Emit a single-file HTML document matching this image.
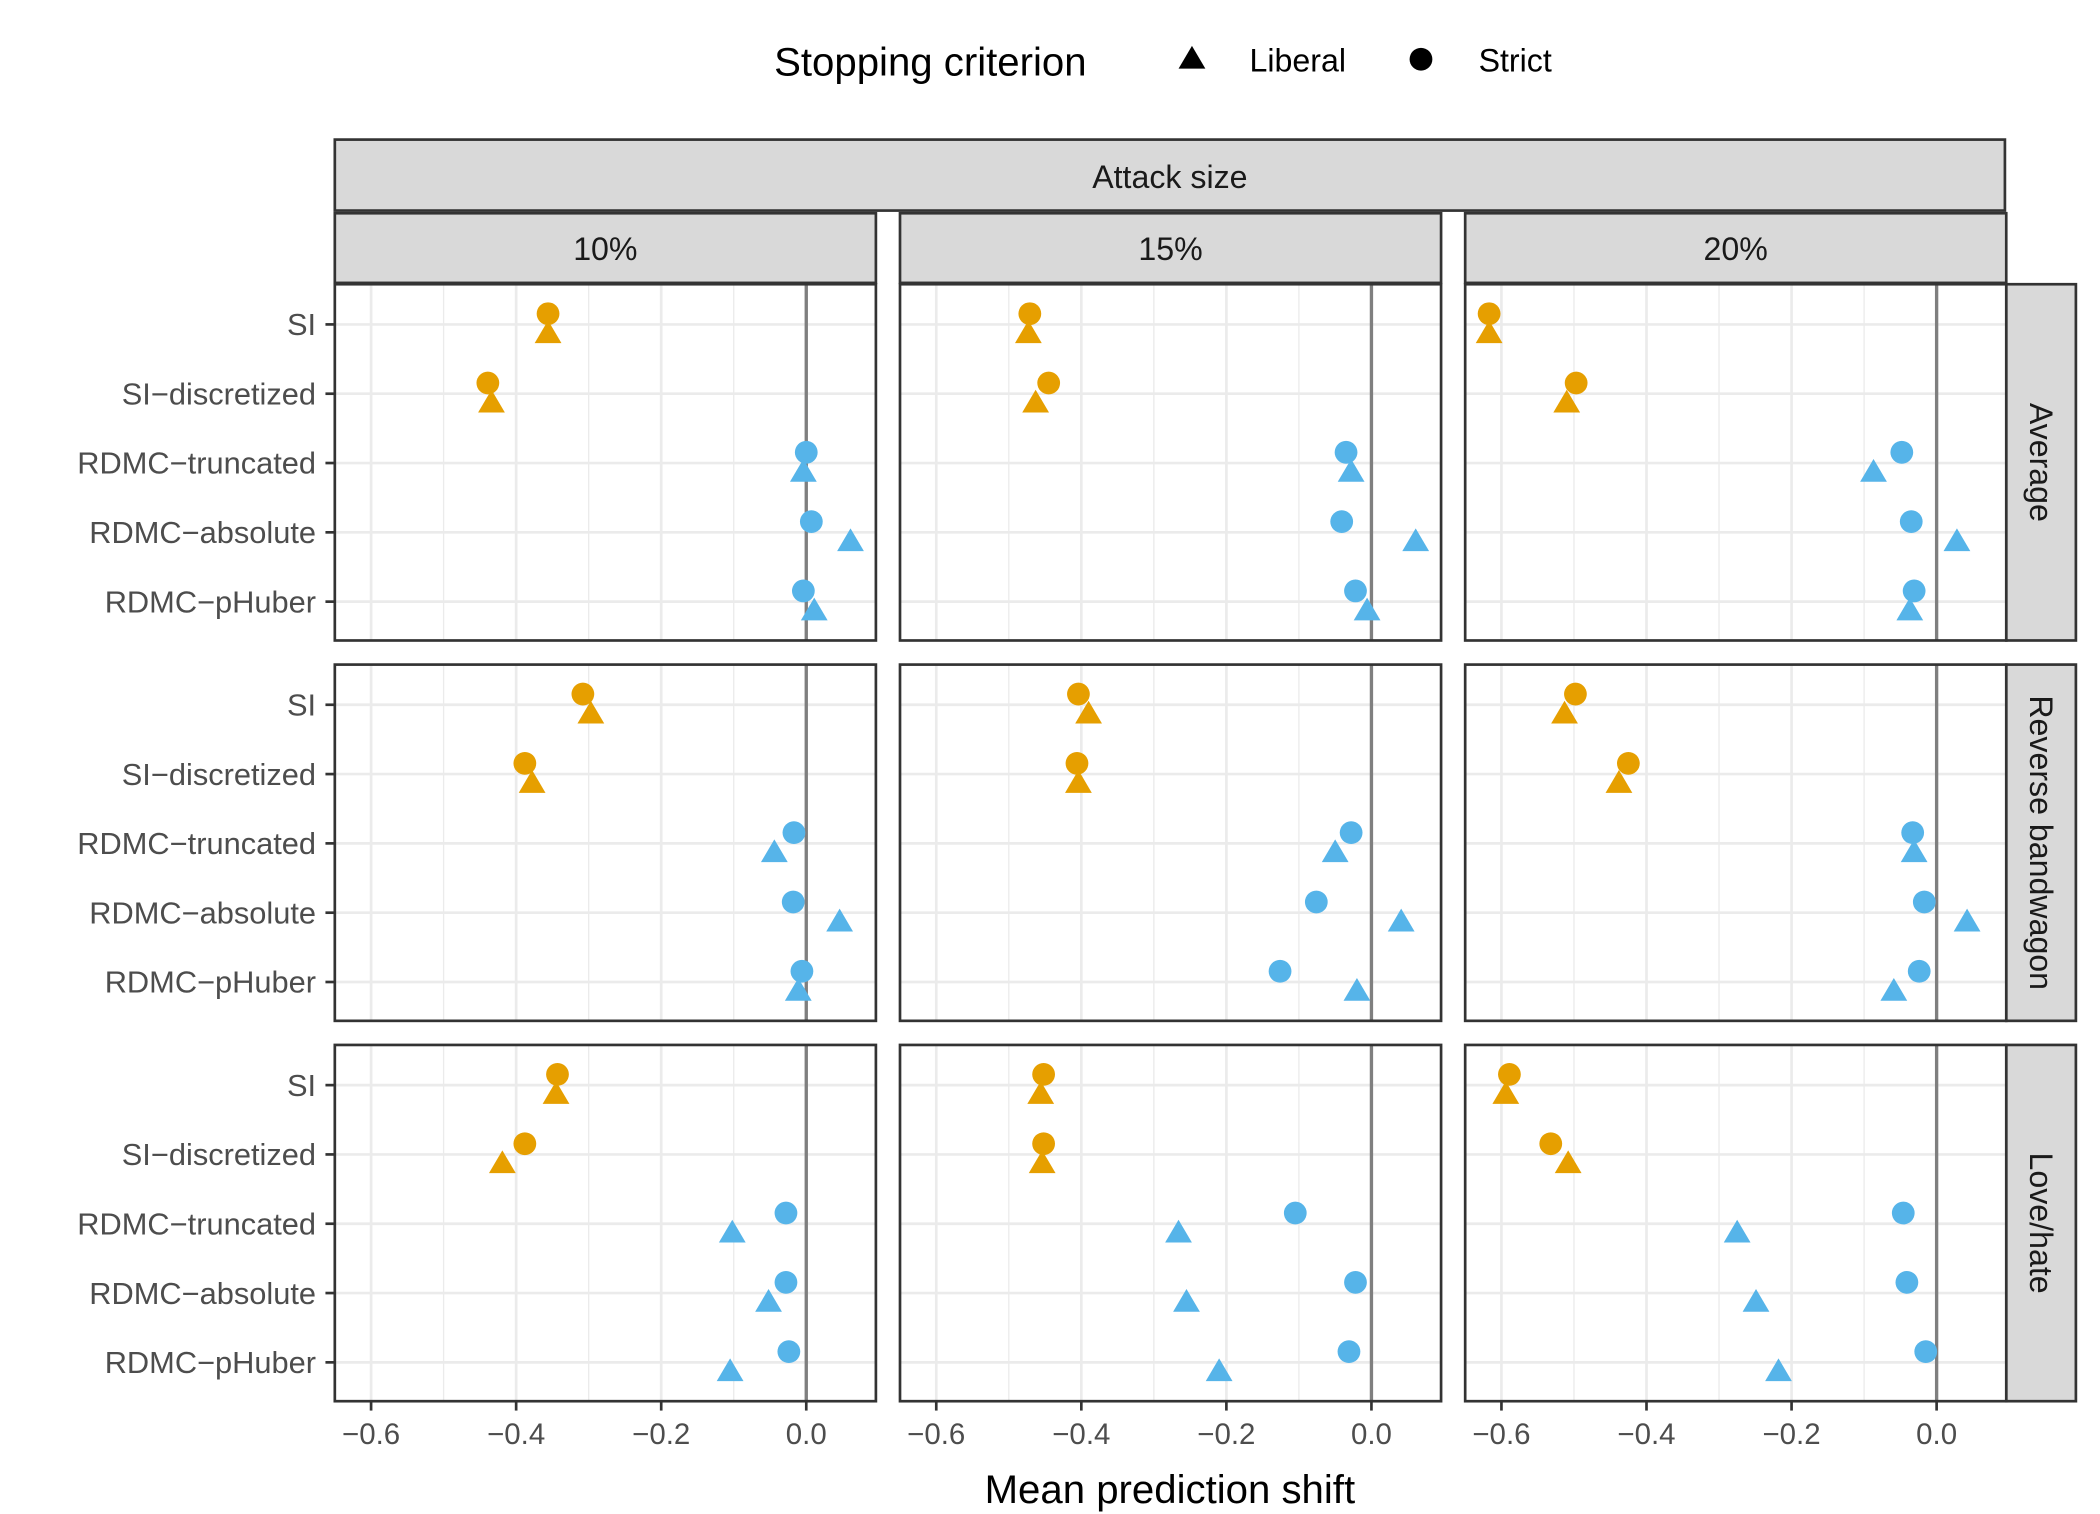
<!DOCTYPE html>
<html><head><meta charset="utf-8"><style>
html,body{margin:0;padding:0;background:#fff;}
svg{display:block;font-family:"Liberation Sans",Arial,sans-serif;}
</style></head><body>
<svg id="chart" width="2100" height="1514" viewBox="0 0 1568 1130" xmlns="http://www.w3.org/2000/svg">
<g>
<text x="578" y="56" font-size="30" fill="#000">Stopping criterion</text>
<polygon points="890,34 880,51 900,51" fill="#000"/>
<text x="933" y="53" font-size="24" fill="#000">Liberal</text>
<circle cx="1061" cy="44" r="8.5" fill="#000"/>
<text x="1104" y="53" font-size="24" fill="#000">Strict</text>
</g>
<rect x="250" y="104" width="1247" height="53" fill="#d9d9d9" stroke="#333" stroke-width="2"/>
<text x="873.5" y="140" font-size="24" text-anchor="middle" fill="#1a1a1a">Attack size</text>
<g id="plot"></g>
<text x="873.5" y="1122" font-size="30" text-anchor="middle" fill="#000">Mean prediction shift</text>
</svg>
<script>
const methods = ["SI","SI\u2212discretized","RDMC\u2212truncated","RDMC\u2212absolute","RDMC\u2212pHuber"];
const attackSizes = ["10%","15%","20%"];
const attackTypes = ["Average","Reverse bandwagon","Love/hate"];
const xTicks = [-0.6,-0.4,-0.2,0.0];
const xTickLabels = ["\u22120.6","\u22120.4","\u22120.2","0.0"];
// strict[row][col][method], liberal[row][col][method]
const strict = [
 [[-0.356,-0.439,0.000,0.007,-0.004],[-0.471,-0.445,-0.035,-0.041,-0.022],[-0.617,-0.497,-0.048,-0.035,-0.031]],
 [[-0.308,-0.388,-0.017,-0.018,-0.006],[-0.404,-0.406,-0.028,-0.076,-0.126],[-0.498,-0.425,-0.033,-0.017,-0.024]],
 [[-0.343,-0.388,-0.028,-0.028,-0.024],[-0.452,-0.452,-0.105,-0.022,-0.031],[-0.589,-0.532,-0.046,-0.041,-0.015]]
];
const liberal = [
 [[-0.356,-0.434,-0.004,0.061,0.011],[-0.473,-0.463,-0.028,0.061,-0.006],[-0.617,-0.510,-0.087,0.028,-0.037]],
 [[-0.297,-0.378,-0.044,0.046,-0.011],[-0.390,-0.404,-0.050,0.041,-0.020],[-0.513,-0.438,-0.031,0.042,-0.059]],
 [[-0.345,-0.419,-0.102,-0.052,-0.105],[-0.456,-0.454,-0.266,-0.255,-0.210],[-0.594,-0.508,-0.275,-0.249,-0.218]]
];
const NS="http://www.w3.org/2000/svg";
const plot=document.getElementById('plot');
function mk(tag,attrs,parent){const e=document.createElementNS(NS,tag);for(const k in attrs)e.setAttribute(k,attrs[k]);(parent||plot).appendChild(e);return e;}
const colX=[250,672,1094], panelW=404, rowY=[212,496,780], panelH=266;
const xMin=-0.65, xMax=0.096;
function xs(c,v){return colX[c]+(v-xMin)/(xMax-xMin)*panelW;}
function ys(r,m){return rowY[r]+30+m*51.75;}
const methodColor=i=>i<2?"#E69F00":"#56B4E9";
for(let c=0;c<3;c++){
  const s=mk('rect',{x:colX[c],y:159,width:panelW,height:52,fill:"#d9d9d9",stroke:"#333","stroke-width":2});
  
  
  const t=mk('text',{x:colX[c]+panelW/2,y:194,"font-size":24,"text-anchor":"middle",fill:"#1a1a1a"});t.textContent=attackSizes[c];
  
  
}
function attrSafe(s){return s.toLowerCase().replace(/[^a-z0-9]+/g,'-').replace(/-$/,'');}
for(let r=0;r<3;r++){
  const s=mk('rect',{x:1498,y:rowY[r],width:52,height:panelH,fill:"#d9d9d9",stroke:"#333","stroke-width":2});
  
  
  const cy=rowY[r]+panelH/2;
  const t=mk('text',{x:1524,y:cy,"font-size":24,"text-anchor":"middle","dominant-baseline":"central",fill:"#1a1a1a",transform:`rotate(90 1524 ${cy})`});t.textContent=attackTypes[r];
  
  
  for(let c=0;c<3;c++){
    const g=mk('g',{});
    
    
    mk('rect',{x:colX[c],y:rowY[r],width:panelW,height:panelH,fill:"#fff"},g);
    for(let v=-0.6;v<=0.05;v+=0.1){
      const major=Math.abs(Math.round(v*10)%2)===0;
      const x=xs(c,v);
      const l=mk('line',{x1:x,x2:x,y1:rowY[r],y2:rowY[r]+panelH,stroke:"#ebebeb","stroke-width":major?2:1},g);
      
      
    }
    for(let m=0;m<5;m++){
      const l=mk('line',{x1:colX[c],x2:colX[c]+panelW,y1:ys(r,m),y2:ys(r,m),stroke:"#ebebeb","stroke-width":2},g);
      
      
    }
    const z=mk('line',{x1:xs(c,0),x2:xs(c,0),y1:rowY[r],y2:rowY[r]+panelH,stroke:"#7f7f7f","stroke-width":2.5},g);
    
    
    for(let m=0;m<5;m++){
      const cx=xs(c,strict[r][c][m]), cy=ys(r,m)-8;
      const p=mk('circle',{cx:cx,cy:cy,r:8.5,fill:methodColor(m)},g);
      
      
      const tx=xs(c,liberal[r][c][m]), ty=ys(r,m)+7;
      const tri=mk('polygon',{points:`${tx},${ty-10} ${tx-10},${ty+7} ${tx+10},${ty+7}`,fill:methodColor(m)},g);
      
      
    }
    mk('rect',{x:colX[c],y:rowY[r],width:panelW,height:panelH,fill:"none",stroke:"#333","stroke-width":2},g);
  }
  for(let m=0;m<5;m++){
    const y=ys(r,m);
    mk('line',{x1:243,x2:250,y1:y,y2:y,stroke:"#333","stroke-width":2});
    const t=mk('text',{x:236,y:y+8,"font-size":23,"text-anchor":"end",fill:"#4d4d4d"});t.textContent=methods[m];
    
    
  }
}
for(let c=0;c<3;c++){
  for(let i=0;i<xTicks.length;i++){
    const x=xs(c,xTicks[i]);
    mk('line',{x1:x,x2:x,y1:1046,y2:1053,stroke:"#333","stroke-width":2});
    const t=mk('text',{x:x,y:1078,"font-size":22,"text-anchor":"middle",fill:"#4d4d4d"});t.textContent=xTickLabels[i];
    
    
  }
}
</script>
</body></html>
